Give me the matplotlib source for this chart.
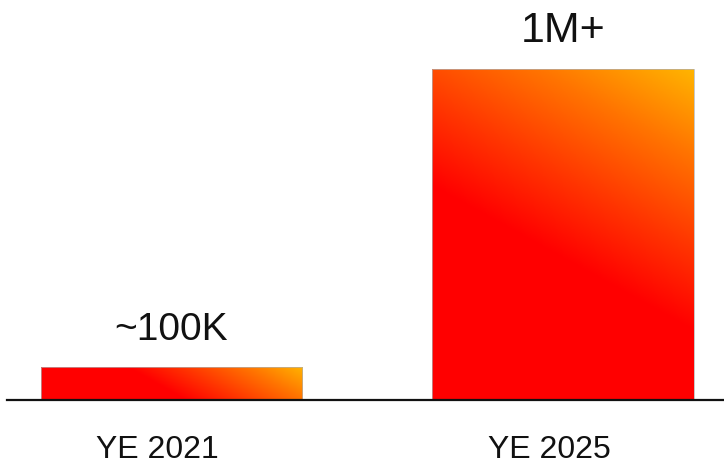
import matplotlib
matplotlib.use("Agg")
import matplotlib.pyplot as plt
import numpy as np
from matplotlib.colors import LinearSegmentedColormap
from matplotlib.transforms import ScaledTranslation

plt.rcParams['font.family'] = ['Liberation Sans', 'DejaVu Sans']

categories = ["YE 2021", "YE 2025"]
values = [100000, 1000000]
value_labels = ["~100K", "1M+"]
label_sizes = [28, 31]

# red -> orange -> amber, running diagonally up to the top-right corner
grad_cmap = LinearSegmentedColormap.from_list(
    "heat",
    [(0.0, "#ff0000"), (0.45, "#ff0000"), (0.62, "#ff3400"),
     (0.82, "#ff7400"), (1.0, "#ffb400")],
)
grad_angle = np.deg2rad(61)

fig = plt.figure(figsize=(7.24, 4.67), dpi=100)
ax = fig.add_axes([7 / 724, 1 - 400 / 467, 717 / 724, 400 / 467])

x = np.arange(len(categories))
bars = ax.bar(x, values, width=0.667, facecolor="none",
              edgecolor="#b0b0b0", linewidth=0.5, zorder=3)

ax.set_xlim(-0.42, 1.411)
ax.set_ylim(0, max(values) * 400 / 331)

fig.canvas.draw()
for bar in bars:
    x0, y0 = bar.get_x(), bar.get_y()
    w, h = bar.get_width(), bar.get_height()
    # size of the bar on screen, so the gradient angle is the same for both
    (px0, py0), (px1, py1) = ax.transData.transform([(x0, y0), (x0 + w, y0 + h)])
    pw, ph = px1 - px0, py1 - py0
    u, v = np.meshgrid(np.linspace(0, 1, 300), np.linspace(0, 1, 300))
    t = (u * pw * np.cos(grad_angle) + v * ph * np.sin(grad_angle)) / (
        pw * np.cos(grad_angle) + ph * np.sin(grad_angle))
    im = ax.imshow(t, cmap=grad_cmap, vmin=0, vmax=1, origin="lower",
                   extent=(x0, x0 + w, y0, y0 + h), aspect="auto",
                   interpolation="bilinear", zorder=2)
    im.set_clip_path(bar)

ax.set_xlim(-0.42, 1.411)
ax.set_ylim(0, max(values) * 400 / 331)

for bar, lab, fs in zip(bars, value_labels, label_sizes):
    ax.annotate(lab, (bar.get_x() + bar.get_width() / 2, bar.get_height()),
                xytext=(0, 19.5), textcoords="offset points",
                ha="center", va="baseline", fontsize=fs, color="#111111")

ax.set_xticks(x)
ax.set_xticklabels(categories, fontsize=23, color="#111111")
ax.tick_params(axis="x", length=0, pad=25.5)
# category labels sit a little left of the bar centres
shift = ScaledTranslation(-14 / 100, 0, fig.dpi_scale_trans)
for lbl in ax.get_xticklabels():
    lbl.set_transform(lbl.get_transform() + shift)
ax.set_yticks([])
for side in ["top", "left", "right"]:
    ax.spines[side].set_visible(False)
ax.spines["bottom"].set_linewidth(1.6)
ax.spines["bottom"].set_color("#111111")
ax.spines["bottom"].set_zorder(4)

fig.savefig("out.png", dpi=100)
